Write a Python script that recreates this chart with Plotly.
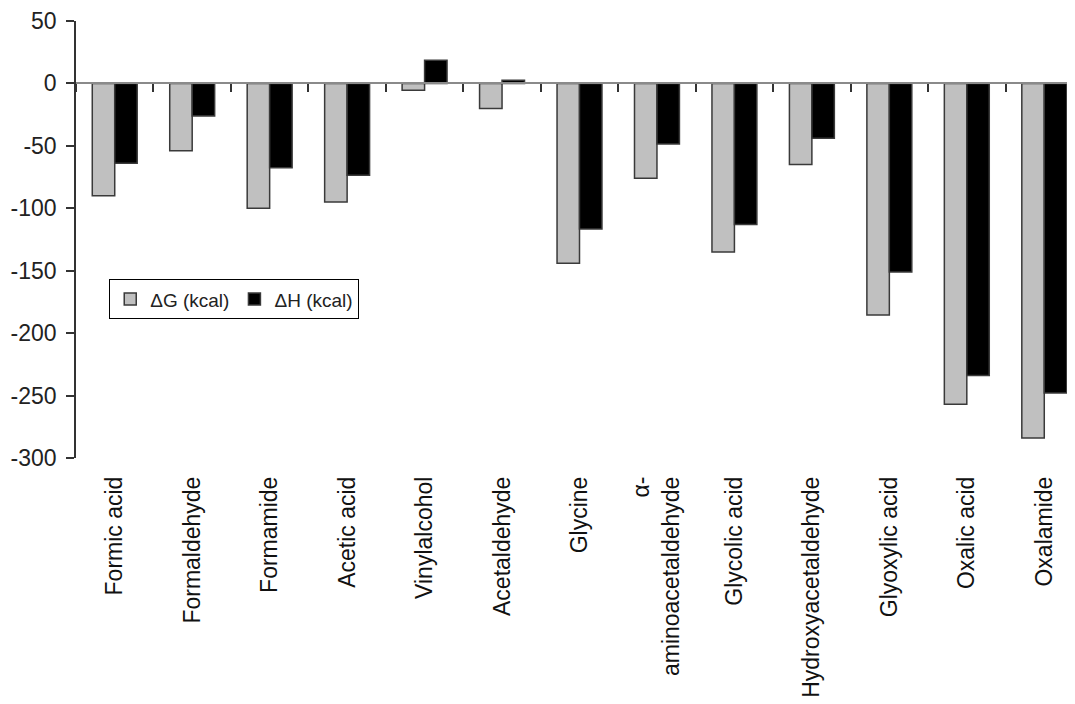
import plotly.graph_objects as go

categories = ["Formic acid", "Formaldehyde", "Formamide", "Acetic acid", "Vinylalcohol",
              "Acetaldehyde", "Glycine", "α-<br>aminoacetaldehyde", "Glycolic acid",
              "Hydroxyacetaldehyde", "Glyoxylic acid", "Oxalic acid", "Oxalamide"]
delta_g = [-90, -54, -100, -95, -5.5, -20, -144, -76, -135, -65, -185.5, -257, -284]
delta_h = [-64, -26, -67.5, -73.5, 18.5, 2.5, -116.5, -48.5, -113, -44, -151, -234, -248]
series_names = ["ΔG (kcal)", "ΔH (kcal)"]
y_ticks = [50, 0, -50, -100, -150, -200, -250, -300]
y_tick_text = ["50", "0", "-50", "-100", "-150", "-200", "-250", "-300"]

FONT = "Liberation Sans, Arial, sans-serif"
y_min, y_max = -300, 50

fig = go.Figure()
fig.add_trace(go.Bar(x=categories, y=delta_g, name=series_names[0],
                     marker=dict(color="#C0C0C0", line=dict(color="#3a3a3a", width=1.5))))
fig.add_trace(go.Bar(x=categories, y=delta_h, name=series_names[1],
                     marker=dict(color="#000000", line=dict(color="#3a3a3a", width=1.5))))
# helper (invisible) trace for the category axis drawn along y = 0
fig.add_trace(go.Scatter(x=categories, y=delta_g, xaxis="x2", mode="markers",
                         marker=dict(opacity=0), showlegend=False, hoverinfo="skip"))

zero_pos = (0 - y_min) / (y_max - y_min)

fig.update_layout(
    width=1075, height=704,
    margin=dict(l=68, r=0, t=13, b=254, autoexpand=False),
    paper_bgcolor="white", plot_bgcolor="white",
    font=dict(family=FONT, size=23, color="#222"),
    barmode="group", bargap=0.42, bargroupgap=0,
    showlegend=True,
    legend=dict(orientation="h", x=0.033, y=0.409, xanchor="left", yanchor="top",
                bordercolor="#000", borderwidth=1, bgcolor="white",
                font=dict(size=19, color="#222"), itemwidth=30,
                traceorder="normal"),
    xaxis=dict(type="category", categoryorder="array", categoryarray=categories,
               range=[-0.5, 12.5], showline=False, ticks="", showgrid=False,
               zeroline=False, tickangle=-90, ticklabelstandoff=13, automargin=False,
               tickfont=dict(size=23, color="#111")),
    xaxis2=dict(type="category", categoryorder="array", categoryarray=categories,
                range=[-0.5, 12.5], overlaying="x", anchor="free", position=zero_pos,
                side="bottom", showline=True, linecolor="#8a8a8a", linewidth=1.5,
                ticks="outside", ticklen=8, tickwidth=1.5, tickcolor="#333",
                tickson="boundaries", showticklabels=False, showgrid=False,
                zeroline=False, automargin=False),
    yaxis=dict(range=[y_min, y_max], tickvals=y_ticks, ticktext=y_tick_text,
               showline=True, linecolor="#333", automargin=False, ticklabelstandoff=5,
               linewidth=1.5, ticks="outside", ticklen=8, tickwidth=1.5, tickcolor="#333",
               showgrid=False, zeroline=False, tickfont=dict(size=23, color="#222")),
)

fig.write_html("out.html")
